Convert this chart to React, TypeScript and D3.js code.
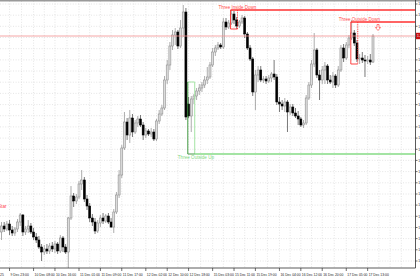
import React, { useEffect } from 'react';
import * as d3 from 'd3';

// ---- data (EURUSD H1) ----
const opens = [
  1.2353, 1.2359, 1.2356, 1.2361, 1.2355, 1.2352, 1.2356, 1.2363, 1.2370, 1.2353,
  1.2356, 1.2359, 1.2353, 1.2348, 1.2345, 1.2338, 1.2333, 1.2336, 1.2334, 1.2339,
  1.2336, 1.2341, 1.2334, 1.2347, 1.2338, 1.2333, 1.2367, 1.2389, 1.2384, 1.2388,
  1.2401, 1.2405, 1.2386, 1.2379, 1.2367, 1.2363, 1.2354, 1.2362, 1.2367, 1.2364,
  1.2369, 1.2363, 1.2358, 1.2373, 1.2390, 1.2410, 1.2437, 1.2463, 1.2450, 1.2467,
  1.2453, 1.2462, 1.2466, 1.2460, 1.2450, 1.2454, 1.2451, 1.2453, 1.2446, 1.2464,
  1.2471, 1.2477, 1.2505, 1.2520, 1.2539, 1.2550, 1.2553, 1.2539, 1.2557, 1.2573,
  1.2481, 1.2469, 1.2486, 1.2489, 1.2494, 1.2497, 1.2500, 1.2505, 1.2508, 1.2520,
  1.2533, 1.2537, 1.2540, 1.2538, 1.2563, 1.2558, 1.2562, 1.2571, 1.2565, 1.2559,
  1.2563, 1.2567, 1.2551, 1.2537, 1.2526, 1.2493, 1.2510, 1.2515, 1.2505, 1.2506,
  1.2504, 1.2507, 1.2511, 1.2508, 1.2483, 1.2481, 1.2479, 1.2483, 1.2473, 1.2478,
  1.2472, 1.2469, 1.2466, 1.2460, 1.2462, 1.2487, 1.2500, 1.2521, 1.2535, 1.2510,
  1.2505, 1.2515, 1.2519, 1.2505, 1.2503, 1.2509, 1.2500, 1.2515, 1.2537, 1.2527,
  1.2540, 1.2547, 1.2552, 1.2542, 1.2526, 1.2527, 1.2525, 1.2524, 1.2525, 1.2523,
];
const highs = [
  1.2363, 1.2363, 1.2364, 1.2365, 1.2359, 1.2358, 1.2366, 1.2372, 1.2371, 1.2359,
  1.2365, 1.2362, 1.2357, 1.2352, 1.2349, 1.2341, 1.2340, 1.2341, 1.2342, 1.2343,
  1.2344, 1.2343, 1.2350, 1.2349, 1.2341, 1.2368, 1.2399, 1.2392, 1.2391, 1.2404,
  1.2415, 1.2408, 1.2390, 1.2382, 1.2371, 1.2367, 1.2365, 1.2370, 1.2372, 1.2371,
  1.2372, 1.2367, 1.2376, 1.2393, 1.2415, 1.2440, 1.2473, 1.2467, 1.2475, 1.2471,
  1.2465, 1.2469, 1.2470, 1.2463, 1.2457, 1.2456, 1.2457, 1.2456, 1.2466, 1.2475,
  1.2480, 1.2509, 1.2525, 1.2543, 1.2555, 1.2557, 1.2555, 1.2565, 1.2580, 1.2577,
  1.2488, 1.2489, 1.2491, 1.2497, 1.2501, 1.2503, 1.2509, 1.2518, 1.2523, 1.2537,
  1.2540, 1.2543, 1.2542, 1.2567, 1.2567, 1.2565, 1.2575, 1.2574, 1.2568, 1.2565,
  1.2570, 1.2569, 1.2553, 1.2540, 1.2528, 1.2515, 1.2519, 1.2519, 1.2509, 1.2509,
  1.2510, 1.2513, 1.2525, 1.2511, 1.2488, 1.2485, 1.2487, 1.2485, 1.2481, 1.2481,
  1.2477, 1.2474, 1.2468, 1.2465, 1.2490, 1.2503, 1.2525, 1.2552, 1.2537, 1.2515,
  1.2519, 1.2523, 1.2521, 1.2510, 1.2513, 1.2511, 1.2519, 1.2540, 1.2541, 1.2543,
  1.2550, 1.2565, 1.2555, 1.2545, 1.2531, 1.2533, 1.2530, 1.2529, 1.2531, 1.2551,
];
const lows = [
  1.2345, 1.2353, 1.2354, 1.2350, 1.2349, 1.2349, 1.2353, 1.2359, 1.2349, 1.2350,
  1.2352, 1.2351, 1.2345, 1.2342, 1.2336, 1.2324, 1.2330, 1.2331, 1.2331, 1.2333,
  1.2332, 1.2331, 1.2332, 1.2333, 1.2331, 1.2316, 1.2365, 1.2378, 1.2381, 1.2386,
  1.2395, 1.2383, 1.2375, 1.2363, 1.2359, 1.2351, 1.2352, 1.2358, 1.2361, 1.2362,
  1.2361, 1.2357, 1.2352, 1.2371, 1.2387, 1.2407, 1.2435, 1.2445, 1.2442, 1.2448,
  1.2451, 1.2458, 1.2458, 1.2445, 1.2447, 1.2449, 1.2448, 1.2444, 1.2444, 1.2461,
  1.2469, 1.2475, 1.2501, 1.2515, 1.2535, 1.2540, 1.2536, 1.2537, 1.2548, 1.2465,
  1.2467, 1.2453, 1.2481, 1.2485, 1.2490, 1.2493, 1.2497, 1.2501, 1.2506, 1.2518,
  1.2529, 1.2535, 1.2536, 1.2536, 1.2555, 1.2556, 1.2560, 1.2561, 1.2556, 1.2557,
  1.2561, 1.2547, 1.2535, 1.2524, 1.2489, 1.2475, 1.2503, 1.2503, 1.2502, 1.2501,
  1.2502, 1.2503, 1.2505, 1.2480, 1.2473, 1.2475, 1.2473, 1.2453, 1.2470, 1.2469,
  1.2467, 1.2460, 1.2458, 1.2457, 1.2460, 1.2485, 1.2497, 1.2518, 1.2507, 1.2485,
  1.2501, 1.2501, 1.2501, 1.2501, 1.2497, 1.2497, 1.2498, 1.2513, 1.2523, 1.2525,
  1.2537, 1.2545, 1.2539, 1.2523, 1.2521, 1.2522, 1.2508, 1.2521, 1.2520, 1.2522,
];
const closes = [
  1.2359, 1.2356, 1.2361, 1.2355, 1.2352, 1.2356, 1.2363, 1.2370, 1.2353, 1.2356,
  1.2359, 1.2353, 1.2348, 1.2345, 1.2338, 1.2333, 1.2336, 1.2334, 1.2339, 1.2336,
  1.2341, 1.2334, 1.2347, 1.2338, 1.2333, 1.2367, 1.2389, 1.2384, 1.2388, 1.2401,
  1.2405, 1.2386, 1.2379, 1.2367, 1.2363, 1.2354, 1.2362, 1.2367, 1.2364, 1.2369,
  1.2363, 1.2358, 1.2373, 1.2390, 1.2410, 1.2437, 1.2463, 1.2450, 1.2467, 1.2453,
  1.2462, 1.2466, 1.2460, 1.2450, 1.2454, 1.2451, 1.2453, 1.2446, 1.2464, 1.2471,
  1.2477, 1.2505, 1.2520, 1.2539, 1.2550, 1.2553, 1.2539, 1.2557, 1.2573, 1.2468,
  1.2469, 1.2486, 1.2489, 1.2494, 1.2497, 1.2500, 1.2505, 1.2508, 1.2520, 1.2533,
  1.2537, 1.2540, 1.2538, 1.2563, 1.2558, 1.2562, 1.2571, 1.2565, 1.2559, 1.2563,
  1.2567, 1.2551, 1.2537, 1.2526, 1.2493, 1.2510, 1.2515, 1.2505, 1.2506, 1.2504,
  1.2507, 1.2511, 1.2508, 1.2483, 1.2481, 1.2479, 1.2483, 1.2473, 1.2478, 1.2472,
  1.2469, 1.2466, 1.2460, 1.2462, 1.2487, 1.2500, 1.2521, 1.2535, 1.2510, 1.2505,
  1.2515, 1.2519, 1.2505, 1.2503, 1.2509, 1.2500, 1.2515, 1.2537, 1.2527, 1.2540,
  1.2547, 1.2552, 1.2542, 1.2526, 1.2527, 1.2525, 1.2524, 1.2525, 1.2523, 1.2549,
];

const timeLabelIndex = [3, 12, 20, 29, 37, 45, 54, 62, 70, 79, 87, 95, 104, 112, 120, 129, 137];
const timeLabels = [
  '9 Dec 23:00', '10 Dec 08:00', '10 Dec 16:00', '11 Dec 01:00', '11 Dec 09:00', '11 Dec 17:00',
  '12 Dec 02:00', '12 Dec 10:00', '12 Dec 18:00', '15 Dec 03:00', '15 Dec 11:00', '15 Dec 19:00',
  '16 Dec 04:00', '16 Dec 12:00', '16 Dec 20:00', '17 Dec 05:00', '17 Dec 13:00',
];
const priceTicks = [
  1.25810, 1.25698, 1.25587, 1.25475, 1.25363, 1.25251, 1.25140, 1.25028, 1.24916, 1.24804,
  1.24693, 1.24581, 1.24469, 1.24357, 1.24246, 1.24134, 1.24022, 1.23910, 1.23799, 1.23687,
  1.23575, 1.23464, 1.23352, 1.23240,
];
const currentPrice = 1.2549;

const patternNames = ['Three Inside Down', 'Three Outside Down', 'Three Outside Up'];
const patternStart = [86, 131, 70];
const patternEnd = [88, 133, 72];
const patternTop = [1.2575, 1.2563, 1.2503];
const patternBottom = [1.2556, 1.2521, 1.2431];
const patternBull = [false, false, true];

const W = 420;
const H = 280;
const PR = 415.5; // right edge of plot
const PB = 268; // bottom edge of plot

export default function App() {
  useEffect(() => {
    document.body.style.margin = '0';
  }, []);

  const n = closes.length;
  const x = d3.scaleLinear().domain([0, n - 1]).range([1.5, 373]);
  const y = d3.scaleLinear().domain([1.2585, 1.2317]).range([0, PB]);
  const font = 'Liberation Sans, Arial, sans-serif';
  const red = '#ff3030';
  const darkGreen = '#2f8f2f';
  const lightGreen = '#a4e4a4';

  // vertical grid: label ticks and their midpoints
  const gridIdx: number[] = [];
  timeLabelIndex.forEach((v, k) => {
    gridIdx.push(v);
    if (k < timeLabelIndex.length - 1) gridIdx.push((v + timeLabelIndex[k + 1]) / 2);
  });
  const lastT = timeLabelIndex[timeLabelIndex.length - 1];
  gridIdx.push(lastT + 4.2, lastT + 8.4, lastT + 12.6);

  const bodyW = 2;
  const idx = d3.range(n);
  const yCur = y(currentPrice);

  return (
    <svg width={W} height={H} style={{ position: 'absolute', left: 0, top: 0, background: '#fff' }} fontFamily={font}>
      <defs>
        <clipPath id="plot">
          <rect x={0} y={1} width={PR} height={PB - 1} />
        </clipPath>
      </defs>
      <rect x={0} y={0} width={W} height={H} fill="#fff" />
      {/* grid */}
      <g stroke="#d4d4d4" strokeWidth={0.6} strokeDasharray="1,1.6">
        {priceTicks.map((p) => (
          <line key={'h' + p} x1={0} x2={PR} y1={y(p)} y2={y(p)} />
        ))}
        {gridIdx.map((g) => (
          <line key={'v' + g} x1={x(g)} x2={x(g)} y1={1} y2={PB} />
        ))}
      </g>

      <g clipPath="url(#plot)">
        {/* candles */}
        {idx.map((i) => {
          const bull = closes[i] >= opens[i];
          const top = y(Math.max(opens[i], closes[i]));
          const bh = Math.max(0.8, Math.abs(y(opens[i]) - y(closes[i])));
          return (
            <g key={i}>
              <line
                x1={x(i)}
                x2={x(i)}
                y1={y(highs[i])}
                y2={y(lows[i])}
                stroke={bull ? '#8a8a8a' : '#404040'}
                strokeWidth={0.7}
              />
              <rect
                x={x(i) - bodyW / 2}
                y={top}
                width={bodyW}
                height={bh}
                fill={bull ? '#dcdcdc' : '#000'}
                stroke={bull ? '#8a8a8a' : '#000'}
                strokeWidth={0.55}
              />
            </g>
          );
        })}

        {/* current price line */}
        <line x1={0} x2={PR} y1={yCur} y2={yCur} stroke="#f29090" strokeWidth={0.8} />

        {/* pattern boxes */}
        {patternNames.map((name, k) => {
          const x1 = x(patternStart[k]) - 0.8;
          const x2 = x(patternEnd[k]) + 0.8;
          const yt = y(patternTop[k]);
          const yb = y(patternBottom[k]);
          if (patternBull[k]) {
            return (
              <g key={name}>
                <line x1={x2} x2={PR} y1={yb} y2={yb} stroke={lightGreen} strokeWidth={2} />
                <line x1={x1} x2={x2} y1={yt} y2={yt} stroke={lightGreen} strokeWidth={1} />
                <line x1={x2} x2={x2} y1={yt} y2={yb} stroke={lightGreen} strokeWidth={1} />
                <line x1={x1} x2={x1} y1={yt} y2={yb} stroke={darkGreen} strokeWidth={0.9} />
                <line x1={x1} x2={x2} y1={yb} y2={yb} stroke={darkGreen} strokeWidth={0.9} />
                <text x={x1 - 10} y={yb + 5} fontSize={4.6} fill="#7fd87f">
                  {name}
                </text>
              </g>
            );
          }
          return (
            <g key={name}>
              <line x1={x1} x2={PR} y1={yt} y2={yt} stroke={red} strokeWidth={1.3} />
              <line x1={x1} x2={x1} y1={yt} y2={yb} stroke={red} strokeWidth={0.9} />
              <line x1={x1} x2={x2} y1={yb} y2={yb} stroke={red} strokeWidth={0.9} />
              <line x1={x2} x2={x2} y1={yt} y2={yb} stroke={red} strokeWidth={0.9} strokeDasharray="1,0.8" />
              <text x={x1 - 12} y={yt - 1.2} fontSize={4.5} fill="#ff4a4a">
                {name}
              </text>
            </g>
          );
        })}

        {/* hollow down arrow after the last bar */}
        {(() => {
          const cx = x(n - 1) + 5;
          const ty = y(patternTop[1]) + 2.5;
          const d = `M${cx - 1},${ty} L${cx + 1},${ty} L${cx + 1},${ty + 3} L${cx + 2.6},${ty + 3} L${cx},${ty + 6} L${cx - 2.6},${ty + 3} L${cx - 1},${ty + 3} Z`;
          return <path d={d} fill="#fff" stroke={red} strokeWidth={0.6} />;
        })()}

        {/* label of a pattern that starts left of the view */}
        <text x={6.5} y={208} fontSize={4.6} fill="#ff4a4a" textAnchor="end">
          Morning Star
        </text>
      </g>

      {/* frame */}
      <line x1={0} x2={W} y1={0.7} y2={0.7} stroke="#9a9a9a" strokeWidth={1.4} />
      <line x1={PR} x2={PR} y1={0} y2={PB} stroke="#303030" strokeWidth={0.8} />
      <line x1={0} x2={PR} y1={PB} y2={PB} stroke="#303030" strokeWidth={0.8} />

      {/* right price axis */}
      {priceTicks.map((p) => (
        <g key={'pt' + p}>
          <line x1={PR} x2={PR + 2} y1={y(p)} y2={y(p)} stroke="#303030" strokeWidth={0.7} />
          {Math.abs(y(p) - yCur) > 4 && (
            <text x={PR + 2.8} y={y(p) + 1.2} fontSize={3.4} fill="#222">
              {p.toFixed(5)}
            </text>
          )}
        </g>
      ))}
      <rect x={PR + 0.5} y={yCur - 3.2} width={10} height={6.4} fill="#c81010" />
      <text x={PR + 1.5} y={yCur + 1.2} fontSize={3.4} fill="#fff">
        {currentPrice.toFixed(4)}
      </text>

      {/* bottom time axis */}
      <text x={0} y={275.5} fontSize={3.4} fill="#222">
        25
      </text>
      {timeLabelIndex.map((t, k) => (
        <g key={'tl' + t}>
          <line x1={x(t)} x2={x(t)} y1={PB} y2={PB + 3} stroke="#303030" strokeWidth={0.7} />
          <text x={x(t) + 1} y={275.5} fontSize={3.4} fill="#222">
            {timeLabels[k]}
          </text>
        </g>
      ))}
    </svg>
  );
}
